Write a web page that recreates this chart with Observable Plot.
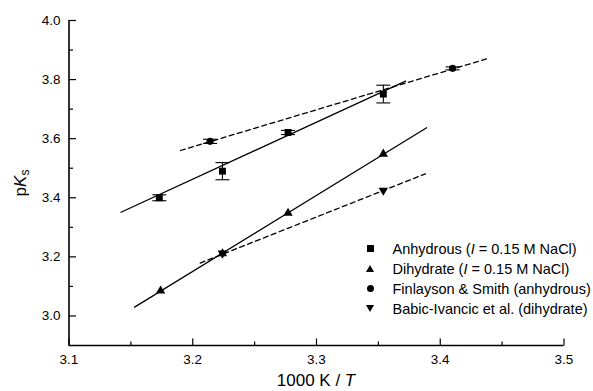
<!DOCTYPE html>
<html>
<head>
<meta charset="utf-8">
<script src="https://cdn.jsdelivr.net/npm/d3@7"></script>
<script src="https://cdn.jsdelivr.net/npm/@observablehq/plot@0.6"></script>
<style>
  html, body { margin: 0; padding: 0; background: #fff; }
  #chart { position: relative; width: 593px; height: 391px; font-family: "Liberation Sans", Arial, sans-serif; color: #000; }
  #chart svg { position: absolute; left: 0; top: 0; }
  .ytitle { position: absolute; left: 20px; top: 182.5px; font-size: 17px; line-height: 17px; white-space: nowrap;
            transform: translate(-50%, -50%) rotate(-90deg); }
  .ytitle sub { font-size: 12px; vertical-align: -3px; line-height: 0; }
  .xtitle { position: absolute; left: 316px; top: 372px; font-size: 17px; line-height: 17px; white-space: nowrap;
            transform: translateX(-50%); }
  .legend { position: absolute; left: 0; top: 0; }
  .row { position: absolute; left: 392.5px; height: 20px; line-height: 20px; font-size: 14.5px; white-space: nowrap; }
  .sym { position: absolute; }
  .sq { width: 7px; height: 7px; background: #000; }
  .ci { width: 7px; height: 7px; background: #000; border-radius: 50%; }
  .tu { width: 0; height: 0; border-left: 4.5px solid transparent; border-right: 4.5px solid transparent; border-bottom: 7.8px solid #000; }
  .td { width: 0; height: 0; border-left: 4.5px solid transparent; border-right: 4.5px solid transparent; border-top: 7.8px solid #000; }
</style>
</head>
<body>
<div id="chart"></div>
<script>
// ---- data ----
const anhydrousX = [3.173, 3.224, 3.277, 3.354];
const anhydrousY = [3.400, 3.490, 3.621, 3.751];
const anhydrousErr = [0.010, 0.029, 0.007, 0.030];

const dihydrateX = [3.174, 3.224, 3.277, 3.354];
const dihydrateY = [3.085, 3.211, 3.348, 3.548];

const finlaysonX = [3.214, 3.410];
const finlaysonY = [3.591, 3.838];
const finlaysonErr = [0.007, 0.005];

const babicX = [3.224, 3.354];
const babicY = [3.212, 3.425];

// fitted lines (end points)
const anhydrousFitX = [3.142, 3.372];
const anhydrousFitY = [3.351, 3.795];
const dihydrateFitX = [3.153, 3.389];
const dihydrateFitY = [3.030, 3.637];
const finlaysonFitX = [3.190, 3.439];
const finlaysonFitY = [3.560, 3.872];
const babicFitX = [3.206, 3.388];
const babicFitY = [3.179, 3.481];

const xDomain = [3.1, 3.5];
const yDomain = [2.9, 4.0];
const xMajor = [3.1, 3.2, 3.3, 3.4, 3.5];
const xMinor = [3.15, 3.25, 3.35, 3.45];
const yMajor = [3.0, 3.2, 3.4, 3.6, 3.8, 4.0];
const yMinor = [3.1, 3.3, 3.5, 3.7, 3.9];

const legendNames = ["Anhydrous", "Dihydrate", "Finlayson & Smith (anhydrous)", "Babic-Ivancic et al. (dihydrate)"];
const legendShapes = ["sq", "tu", "ci", "td"];

// ---- helpers ----
const pts = (xs, ys, es) => xs.map((x, i) => ({x, y: ys[i], e: es ? es[i] : 0}));
const W = 593, H = 391;
const mL = 68.5, mR = 29.5, mT = 20, mB = 46;

const capSymbol = { draw(ctx) { ctx.moveTo(-7, 0); ctx.lineTo(7, 0); } };
const upTick = (len) => ({ draw(ctx) { ctx.moveTo(0, 0); ctx.lineTo(0, -len); } });
const rightTick = (len) => ({ draw(ctx) { ctx.moveTo(0, 0); ctx.lineTo(len, 0); } });

const anh = pts(anhydrousX, anhydrousY, anhydrousErr);
const fin = pts(finlaysonX, finlaysonY, finlaysonErr);
const errPts = [...anh, ...fin];

const chart = Plot.plot({
  width: W, height: H,
  marginLeft: mL, marginRight: mR, marginTop: mT, marginBottom: mB,
  style: {fontFamily: "Liberation Sans, Arial, sans-serif", fontSize: "13.5px", background: "#fff", color: "#000"},
  x: {domain: xDomain},
  y: {domain: yDomain},
  marks: [
    Plot.axisX({ticks: xMajor, tickSize: 0, tickPadding: 9, tickFormat: d3.format(".1f"), label: null}),
    Plot.axisY({ticks: yMajor, tickSize: 0, tickPadding: 8.5, tickFormat: d3.format(".1f"), label: null}),

    // axis lines and inward ticks
    Plot.ruleX([xDomain[0]], {x: d => d, y1: yDomain[0], y2: yDomain[1], stroke: "#000", strokeWidth: 1.6}),
    Plot.ruleY([yDomain[0]], {y: d => d, x1: xDomain[0], x2: xDomain[1], stroke: "#000", strokeWidth: 1.6}),
    Plot.dot(xMajor, {x: d => d, y: yDomain[0], symbol: upTick(7), stroke: "#000", strokeWidth: 1.2}),
    Plot.dot(xMinor, {x: d => d, y: yDomain[0], symbol: upTick(4), stroke: "#000", strokeWidth: 1.2}),
    Plot.dot(yMajor, {y: d => d, x: xDomain[0], symbol: rightTick(7), stroke: "#000", strokeWidth: 1.2}),
    Plot.dot(yMinor, {y: d => d, x: xDomain[0], symbol: rightTick(4), stroke: "#000", strokeWidth: 1.2}),

    // fits
    Plot.line(pts(anhydrousFitX, anhydrousFitY), {x: "x", y: "y", stroke: "#000", strokeWidth: 1.3}),
    Plot.line(pts(dihydrateFitX, dihydrateFitY), {x: "x", y: "y", stroke: "#000", strokeWidth: 1.3}),
    Plot.line(pts(finlaysonFitX, finlaysonFitY), {x: "x", y: "y", stroke: "#000", strokeWidth: 1.3, strokeDasharray: "5,3.5"}),
    Plot.line(pts(babicFitX, babicFitY), {x: "x", y: "y", stroke: "#000", strokeWidth: 1.3, strokeDasharray: "5,3.5"}),

    // error bars
    Plot.ruleX(errPts, {x: "x", y1: d => d.y - d.e, y2: d => d.y + d.e, stroke: "#000", strokeWidth: 1.1}),
    Plot.dot(errPts, {x: "x", y: d => d.y - d.e, symbol: capSymbol, stroke: "#000", strokeWidth: 1.1}),
    Plot.dot(errPts, {x: "x", y: d => d.y + d.e, symbol: capSymbol, stroke: "#000", strokeWidth: 1.1}),

    // points
    Plot.dot(anh, {x: "x", y: "y", symbol: "square", r: 3.9, fill: "#000"}),
    Plot.dot(pts(dihydrateX, dihydrateY), {x: "x", y: "y", symbol: "triangle", r: 3.5, fill: "#000"}),
    Plot.dot(fin, {x: "x", y: "y", symbol: "circle", r: 3.6, fill: "#000"}),
    Plot.dot(pts(babicX, babicY), {x: "x", y: "y", symbol: "triangle", rotate: 180, r: 3.5, fill: "#000"})
  ]
});

const root = document.getElementById("chart");
root.appendChild(chart);

// axis titles (HTML overlays for italic / subscript)
const yTitle = document.createElement("div");
yTitle.className = "ytitle";
yTitle.innerHTML = "p<i>K</i><sub>s</sub>";
root.appendChild(yTitle);

const xTitle = document.createElement("div");
xTitle.className = "xtitle";
xTitle.innerHTML = "1000 K / <i>T</i>";
root.appendChild(xTitle);

// legend
const legend = document.createElement("div");
legend.className = "legend";
legendNames.forEach((name, i) => {
  const cy = 248.5 + i * 20;
  const sym = document.createElement("div");
  sym.className = "sym " + legendShapes[i];
  const w = legendShapes[i].startsWith("t") ? 9 : 7;
  const h = legendShapes[i].startsWith("t") ? 7.8 : 7;
  sym.style.left = (370 - w / 2) + "px";
  sym.style.top = (cy - h / 2) + "px";
  legend.appendChild(sym);
  const row = document.createElement("div");
  row.className = "row";
  row.style.top = (cy - 10) + "px";
  row.innerHTML = i < 2 ? `${name} (<i>I</i> = 0.15 M NaCl)` : name.replace("&", "&amp;");
  legend.appendChild(row);
});
root.appendChild(legend);
</script>
</body>
</html>
